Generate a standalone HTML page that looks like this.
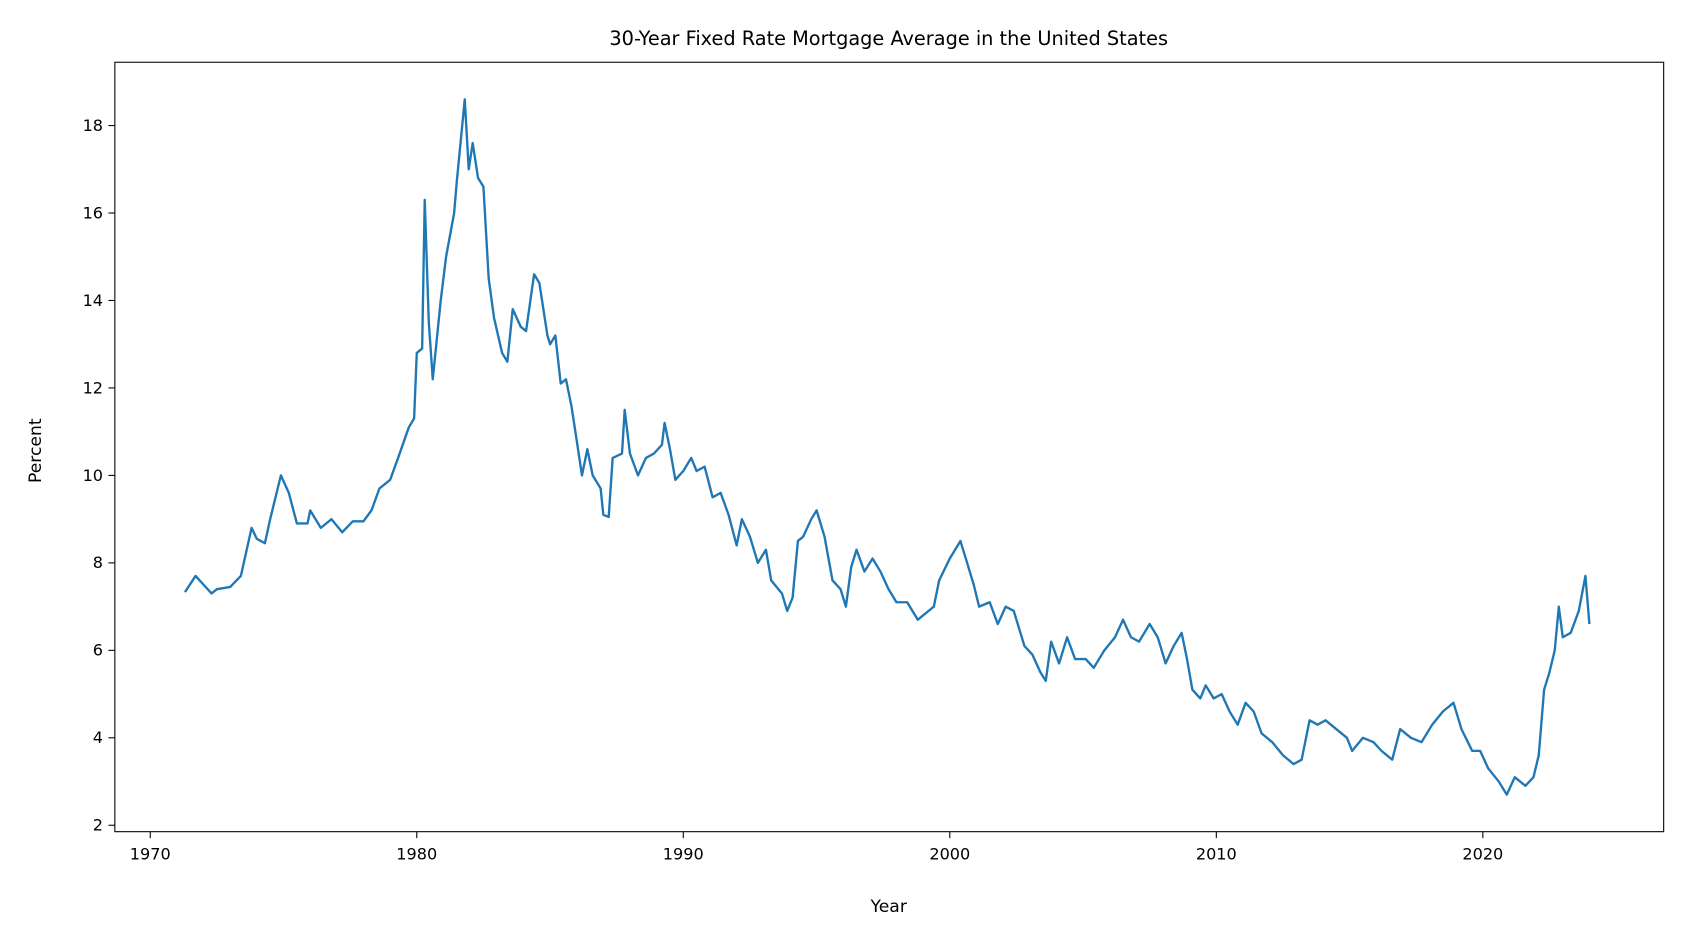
<!DOCTYPE html>
<html><head><meta charset="utf-8"><style>
body{margin:0;background:#fff;font-family:"Liberation Sans","DejaVu Sans",sans-serif;overflow:hidden;}
svg{display:block;}
text{font-family:"DejaVu Sans","Liberation Sans",sans-serif;fill:#000;}
</style></head><body>
<svg id="chart" width="1683" height="939" viewBox="0 0 1568 875" preserveAspectRatio="none">
<text x="828" y="42" font-size="18" text-anchor="middle">30-Year Fixed Rate Mortgage Average in the United States</text>
<g id="xticks"></g>
<g id="yticks"></g>
<path id="line" fill="none" stroke="#1f77b4" stroke-width="2.2" stroke-linejoin="round"></path>
<rect x="107" y="58" width="1443" height="717" fill="none" stroke="#000" stroke-width="1"></rect>
<text x="828" y="850" font-size="16" text-anchor="middle">Year</text>
<text x="38" y="420" font-size="16" text-anchor="middle" transform="rotate(-90 38 420)">Percent</text>
</svg>
<script>
const years=[1971.3,1971.7,1972.0,1972.3,1972.5,1973.0,1973.4,1973.8,1974.0,1974.3,1974.5,1974.9,1975.2,1975.5,1975.9,1976.0,1976.4,1976.8,1977.2,1977.6,1978.0,1978.3,1978.6,1979.0,1979.3,1979.7,1979.9,1980.0,1980.2,1980.3,1980.45,1980.6,1980.9,1981.1,1981.4,1981.5,1981.8,1981.95,1982.1,1982.3,1982.5,1982.7,1982.9,1983.2,1983.4,1983.6,1983.9,1984.1,1984.4,1984.6,1984.9,1985.0,1985.2,1985.4,1985.6,1985.8,1986.0,1986.2,1986.4,1986.6,1986.9,1987.0,1987.2,1987.35,1987.7,1987.8,1988.0,1988.3,1988.6,1988.9,1989.2,1989.3,1989.5,1989.7,1990.0,1990.3,1990.5,1990.8,1991.1,1991.4,1991.7,1992.0,1992.2,1992.5,1992.8,1993.1,1993.3,1993.7,1993.9,1994.1,1994.3,1994.5,1994.8,1995.0,1995.3,1995.6,1995.9,1996.1,1996.3,1996.5,1996.8,1997.1,1997.4,1997.7,1998.0,1998.4,1998.8,1999.0,1999.4,1999.6,2000.0,2000.4,2000.6,2000.9,2001.1,2001.5,2001.8,2002.1,2002.4,2002.8,2003.1,2003.4,2003.6,2003.8,2004.1,2004.4,2004.7,2005.1,2005.4,2005.8,2006.2,2006.5,2006.8,2007.1,2007.5,2007.8,2008.1,2008.4,2008.7,2008.9,2009.1,2009.4,2009.6,2009.9,2010.2,2010.5,2010.8,2011.1,2011.4,2011.7,2012.1,2012.5,2012.9,2013.2,2013.5,2013.8,2014.1,2014.5,2014.9,2015.1,2015.5,2015.9,2016.2,2016.6,2016.9,2017.3,2017.7,2018.1,2018.5,2018.9,2019.2,2019.6,2019.9,2020.2,2020.6,2020.9,2021.2,2021.6,2021.9,2022.1,2022.3,2022.5,2022.7,2022.85,2023.0,2023.3,2023.6,2023.85,2024.0];
const rates=[7.33,7.7,7.5,7.3,7.4,7.45,7.7,8.8,8.55,8.45,9.0,10.0,9.6,8.9,8.9,9.2,8.8,9.0,8.7,8.95,8.95,9.2,9.7,9.9,10.4,11.1,11.3,12.8,12.9,16.3,13.5,12.2,14.0,15.0,16.0,16.7,18.6,17.0,17.6,16.8,16.6,14.5,13.6,12.8,12.6,13.8,13.4,13.3,14.6,14.4,13.2,13.0,13.2,12.1,12.2,11.6,10.8,10.0,10.6,10.0,9.7,9.1,9.05,10.4,10.5,11.5,10.5,10.0,10.4,10.5,10.7,11.2,10.6,9.9,10.1,10.4,10.1,10.2,9.5,9.6,9.1,8.4,9.0,8.6,8.0,8.3,7.6,7.3,6.9,7.2,8.5,8.6,9.0,9.2,8.6,7.6,7.4,7.0,7.9,8.3,7.8,8.1,7.8,7.4,7.1,7.1,6.7,6.8,7.0,7.6,8.1,8.5,8.1,7.5,7.0,7.1,6.6,7.0,6.9,6.1,5.9,5.5,5.3,6.2,5.7,6.3,5.8,5.8,5.6,6.0,6.3,6.7,6.3,6.2,6.6,6.3,5.7,6.1,6.4,5.8,5.1,4.9,5.2,4.9,5.0,4.6,4.3,4.8,4.6,4.1,3.9,3.6,3.4,3.5,4.4,4.3,4.4,4.2,4.0,3.7,4.0,3.9,3.7,3.5,4.2,4.0,3.9,4.3,4.6,4.8,4.2,3.7,3.7,3.3,3.0,2.7,3.1,2.9,3.1,3.6,5.1,5.5,6.0,7.0,6.3,6.4,6.9,7.7,6.6];
const xTicks=[1970,1980,1990,2000,2010,2020];
const yTicks=[2,4,6,8,10,12,14,16,18];
const X=y=>140+(y-1970)*24.83;
const Y=v=>769-(v-2)*40.75;
const NS='http://www.w3.org/2000/svg';
let d='';
years.forEach((yr,i)=>{d+=(i?'L':'M')+X(yr).toFixed(1)+','+Y(rates[i]).toFixed(1);});
document.getElementById('line').setAttribute('d',d);
const xg=document.getElementById('xticks');
xTicks.forEach(t=>{
 const l=document.createElementNS(NS,'line');
 
 
 l.setAttribute('x1',X(t));l.setAttribute('x2',X(t));l.setAttribute('y1',775);l.setAttribute('y2',781);l.setAttribute('stroke','#000');
 xg.appendChild(l);
 const tx=document.createElementNS(NS,'text');
 
 
 tx.setAttribute('x',X(t));tx.setAttribute('y',801);tx.setAttribute('font-size','15');tx.setAttribute('text-anchor','middle');
 tx.textContent=t;xg.appendChild(tx);
});
const yg=document.getElementById('yticks');
yTicks.forEach(t=>{
 const l=document.createElementNS(NS,'line');
 
 
 l.setAttribute('x1',101);l.setAttribute('x2',107);l.setAttribute('y1',Y(t));l.setAttribute('y2',Y(t));l.setAttribute('stroke','#000');
 yg.appendChild(l);
 const tx=document.createElementNS(NS,'text');
 
 
 tx.setAttribute('x',96);tx.setAttribute('y',Y(t)+5);tx.setAttribute('font-size','15');tx.setAttribute('text-anchor','end');
 tx.textContent=t;yg.appendChild(tx);
});
</script>
</body></html>
